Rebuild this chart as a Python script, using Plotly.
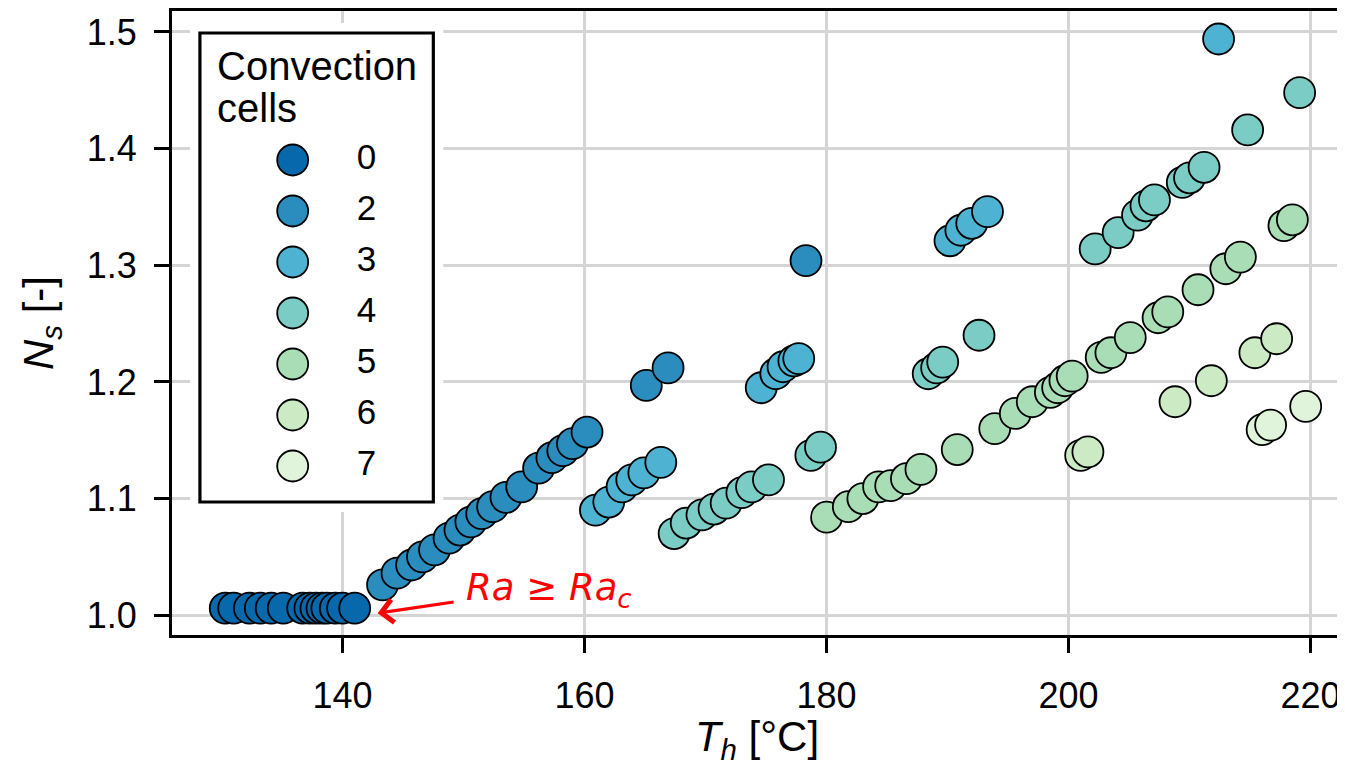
import plotly.graph_objects as go

# ---------------- data ----------------
cells = [0, 2, 3, 4, 5, 6, 7]
colors = ["#0868ac", "#2b8cbe", "#4eb3d3", "#7bccc4", "#a8ddb5", "#ccebc5", "#e0f3db"]

th_0 = [130.3, 131.0, 132.3, 133.2, 134.1, 135.1, 136.7, 137.3, 137.8, 138.3, 138.7, 139.4, 140.0, 141.0]
ns_0 = [1.006] * len(th_0)

th_2 = [143.3, 144.5, 145.7, 146.6, 147.6, 148.8, 149.7, 150.6, 151.5, 152.4, 153.5, 154.8, 156.2, 157.3,
        158.2, 159.0, 160.2, 165.1, 166.9, 178.3]
ns_2 = [1.026, 1.036, 1.043, 1.050, 1.056, 1.066, 1.073, 1.080, 1.087, 1.093, 1.101, 1.110, 1.126, 1.135,
        1.141, 1.147, 1.157, 1.197, 1.212, 1.304]

th_3 = [160.9, 162.0, 163.1, 163.9, 164.9, 166.3, 174.6, 175.8, 176.4, 177.3, 177.7,
        190.2, 191.1, 192.0, 193.3, 212.4]
ns_3 = [1.090, 1.097, 1.110, 1.116, 1.122, 1.131, 1.195, 1.207, 1.213, 1.218, 1.220,
        1.321, 1.330, 1.336, 1.346, 1.494]

th_4 = [167.4, 168.4, 169.7, 170.7, 171.7, 173.0, 173.8, 175.2, 178.7, 179.5, 188.4, 189.1, 189.6, 192.6,
        202.2, 204.1, 205.7, 206.4, 207.1, 209.4, 210.0, 211.2, 214.8, 219.1]
ns_4 = [1.070, 1.079, 1.086, 1.091, 1.096, 1.105, 1.110, 1.116, 1.137, 1.144, 1.207, 1.212, 1.217, 1.240,
        1.314, 1.328, 1.343, 1.351, 1.356, 1.371, 1.375, 1.384, 1.416, 1.448]

th_5 = [180.0, 181.8, 183.0, 184.3, 185.3, 186.6, 187.8, 190.8, 193.9, 195.6, 197.0, 198.5, 199.1, 199.7,
        200.3, 202.7, 203.5, 205.1, 207.4, 208.2, 210.7, 213.0, 214.2, 217.8, 218.5]
ns_5 = [1.084, 1.093, 1.100, 1.110, 1.111, 1.117, 1.125, 1.142, 1.160, 1.173, 1.183, 1.191, 1.195, 1.201,
        1.205, 1.221, 1.225, 1.238, 1.255, 1.260, 1.279, 1.297, 1.307, 1.334, 1.339]

th_6 = [201.0, 201.6, 208.8, 211.8, 215.4, 217.2]
ns_6 = [1.137, 1.140, 1.183, 1.201, 1.225, 1.237]

th_7 = [216.0, 216.7, 219.6]
ns_7 = [1.159, 1.163, 1.179]

groups_th = [th_0, th_2, th_3, th_4, th_5, th_6, th_7]
groups_ns = [ns_0, ns_2, ns_3, ns_4, ns_5, ns_6, ns_7]

x_ticks = [140, 160, 180, 200, 220]
y_ticks = [1.0, 1.1, 1.2, 1.3, 1.4, 1.5]
legend_title_lines = ["Convection", "cells"]

# ---------------- figure ----------------
BODY = 8  # default page margin of the html body
W, H = 1337, 758
ML, MR, MT, MB = 164, 0, 3, 131
PW, PH = W - ML - MR, H - MT - MB

def px_x(p):  # page pixel -> paper x
    return (p - BODY - ML) / PW

def px_y(p):  # page pixel -> paper y
    return 1 - (p - BODY - MT) / PH

FONT = "Liberation Sans, Arial, sans-serif"
MS = 31
fig = go.Figure()

for c, col, tx, ny in zip(cells, colors, groups_th, groups_ns):
    fig.add_trace(go.Scatter(
        x=tx, y=ny, mode="markers", name=str(c), showlegend=False,
        marker=dict(size=MS, color=col, line=dict(color="black", width=1.8)),
        xaxis="x", yaxis="y",
    ))

# custom legend drawn on an overlay axis (x2/y2) in page-pixel-like units
LX0, LX1, LY0, LY1 = 190, 444, 23, 512
leg_rows = [160 - LY0 + 51 * k for k in range(len(cells))]
fig.add_trace(go.Scatter(
    x=[293 - LX0] * len(cells), y=leg_rows, mode="markers", showlegend=False,
    marker=dict(size=MS, color=colors, line=dict(color="black", width=1.8)),
    xaxis="x2", yaxis="y2", hoverinfo="skip",
))
fig.add_trace(go.Scatter(
    x=[367 - LX0] * len(cells), y=leg_rows, mode="text", showlegend=False,
    text=[str(c) for c in cells], textfont=dict(family=FONT, size=35, color="black"),
    xaxis="x2", yaxis="y2", hoverinfo="skip",
))

fig.add_shape(type="rect", xref="x2", yref="y2",
              x0=200 - LX0, x1=434 - LX0, y0=33 - LY0, y1=502 - LY0,
              fillcolor="white", line=dict(color="black", width=3.2), layer="below")

for line_txt, yc in zip(legend_title_lines, [66, 108]):
    fig.add_annotation(xref="x2", yref="y2", x=215 - LX0, y=yc - LY0, text=line_txt, showarrow=False,
                       xanchor="left", yanchor="middle", align="left",
                       font=dict(family=FONT, size=40, color="black"))

# Ra >= Ra_c annotation
fig.add_annotation(x=150.0, y=1.0215, xref="x", yref="y",
                   text="<i>Ra</i> ≥ <i>Ra</i><sub><i>c</i></sub>", showarrow=False,
                   xanchor="left", yanchor="middle",
                   font=dict(family="DejaVu Sans", size=37, color="red"))
fig.add_annotation(x=142.9, y=1.0017, ax=149.3, ay=1.0115, xref="x", yref="y", axref="x", ayref="y",
                   text=" ", showarrow=True, arrowhead=4, arrowsize=1.4, arrowwidth=3.2,
                   arrowcolor="red", font=dict(size=1), standoff=0, startstandoff=0)

axis_common = dict(
    showgrid=True, gridcolor="#d5d5d5", gridwidth=2.5,
    showline=True, linecolor="black", linewidth=3.2, mirror=True,
    ticks="outside", ticklen=15, tickwidth=2.5, tickcolor="black",
    tickfont=dict(family=FONT, size=36, color="black"), zeroline=False,
)

fig.update_layout(
    width=W, height=H,
    margin=dict(l=ML, r=MR, t=MT, b=MB),
    paper_bgcolor="white", plot_bgcolor="white",
    showlegend=False,
    xaxis=dict(range=[125.9, 222.6], tickvals=x_ticks, ticktext=[str(v) for v in x_ticks],
               ticklabelstandoff=12,
               title=dict(text="<i>T</i><sub><i>h</i></sub> [°C]", font=dict(family=FONT, size=42, color="black"),
                          standoff=10),
               **axis_common),
    yaxis=dict(range=[0.983, 1.518], tickvals=y_ticks, ticktext=[f"{v:.1f}" for v in y_ticks],
               ticklabelstandoff=10,
               title=dict(text="<i>N</i><sub><i>s</i></sub> [-]", font=dict(family=FONT, size=42, color="black"),
                          standoff=20),
               **axis_common),
    xaxis2=dict(domain=[px_x(LX0), px_x(LX1)], range=[0, LX1 - LX0], visible=False, anchor="y2",
                fixedrange=True),
    yaxis2=dict(domain=[px_y(LY1), px_y(LY0)], range=[LY1 - LY0, 0], visible=False, anchor="x2",
                fixedrange=True),
)

fig.write_html("out.html")
